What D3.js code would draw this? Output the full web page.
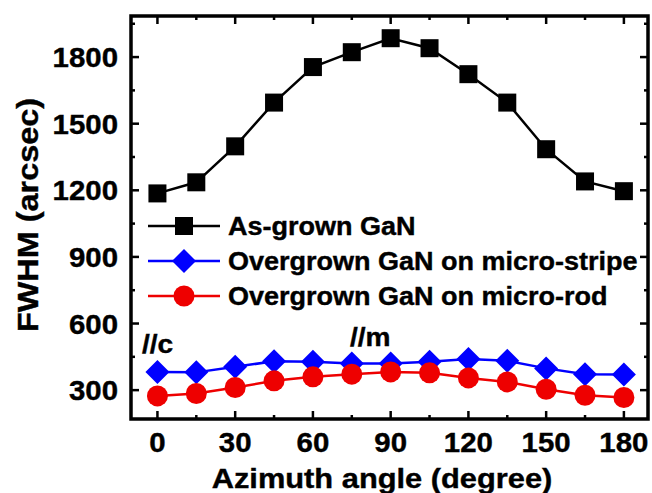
<!DOCTYPE html>
<html>
<head>
<meta charset="utf-8">
<script src="https://cdn.jsdelivr.net/npm/d3@7"></script>
<style>
  body { margin: 0; background: #fff; }
  text { font-family: "Liberation Sans", Arial, sans-serif; font-weight: bold; fill: #000; stroke: #000; stroke-width: 0.4px; }
</style>
</head>
<body>
<div id="chart"></div>
<script>
// values
var angles = [0, 15, 30, 45, 60, 75, 90, 105, 120, 135, 150, 165, 180];
var asGrown = [1186, 1236, 1398, 1595, 1755, 1822, 1885, 1840, 1723, 1595, 1385, 1240, 1196];
var stripe = [382, 380, 405, 430, 428, 420, 420, 428, 440, 432, 398, 372, 370];
var rod = [274, 285, 312, 342, 360, 372, 382, 378, 355, 337, 304, 277, 267];
var xTicks = [0, 30, 60, 90, 120, 150, 180];
var yTicks = [300, 600, 900, 1200, 1500, 1800];
var seriesNames = ["As-grown GaN", "Overgrown GaN on micro-stripe", "Overgrown GaN on micro-rod"];
var seriesColors = ["#000000", "#0000ff", "#ee0000"];

var W = 652, H = 493;
var margin = { top: 16, right: 4, bottom: 74, left: 131 };

var svg = d3.select("#chart").append("svg")
  .attr("width", W)
  .attr("height", H);

var x = d3.scaleLinear().domain([-10.2, 189.3]).range([margin.left, W - margin.right]);
var y = d3.scaleLinear().domain([170, 1985]).range([H - margin.bottom, margin.top]);

// stretch text a little wider, like the original
function widen(sel, k) {
  sel.each(function() {
    var w = this.getComputedTextLength();
    d3.select(this).attr("textLength", w * k).attr("lengthAdjust", "spacingAndGlyphs");
  });
}

var x0 = x.range()[0], x1 = x.range()[1], y0 = y.range()[0], y1 = y.range()[1];

// ticks (inward, all four sides)
var xMinor = d3.range(0, 181, 15);
var yMinor = d3.range(150, 1951, 150);
var tk = svg.append("g").attr("stroke", "#000").attr("stroke-width", 2.5);
xMinor.forEach(function(v) {
  var len = (v % 30 == 0) ? 8 : 4;
  tk.append("line").attr("x1", x(v)).attr("x2", x(v)).attr("y1", y0).attr("y2", y0 - len);
  tk.append("line").attr("x1", x(v)).attr("x2", x(v)).attr("y1", y1).attr("y2", y1 + len);
});
yMinor.forEach(function(v) {
  if (y(v) > y0 || y(v) < y1) return;
  var len = (v % 300 == 0) ? 8 : 4;
  tk.append("line").attr("y1", y(v)).attr("y2", y(v)).attr("x1", x0).attr("x2", x0 + len);
  tk.append("line").attr("y1", y(v)).attr("y2", y(v)).attr("x1", x1).attr("x2", x1 - len);
});

// frame
svg.append("rect")
  .attr("x", x0).attr("y", y1)
  .attr("width", x1 - x0).attr("height", y0 - y1)
  .attr("fill", "none").attr("stroke", "#000").attr("stroke-width", 3.5);

// tick labels
svg.selectAll(".xlab").data(xTicks).enter().append("text")
  .attr("class", "xlab")
  .attr("x", function(d) { return x(d); })
  .attr("y", 452)
  .attr("text-anchor", "middle")
  .style("font-size", "28px")
  .text(function(d) { return d; })
  .call(widen, 1.05);

svg.selectAll(".ylab").data(yTicks).enter().append("text")
  .attr("class", "ylab")
  .attr("x", 118)
  .attr("y", function(d) { return y(d) + 10; })
  .attr("text-anchor", "end")
  .style("font-size", "28px")
  .text(function(d) { return d; })
  .call(widen, 1.05);

// axis titles
svg.append("text")
  .attr("x", 382).attr("y", 488)
  .attr("text-anchor", "middle")
  .style("font-size", "28px")
  .text("Azimuth angle (degree)")
  .call(widen, 1.1);

svg.append("text")
  .attr("transform", "translate(38,215) rotate(-90)")
  .attr("text-anchor", "middle")
  .style("font-size", "30px")
  .text("FWHM (arcsec)")
  .call(widen, 1.08);

// series
var allSeries = [asGrown, stripe, rod];
var line = d3.line()
  .x(function(d, i) { return x(angles[i]); })
  .y(function(d) { return y(d); });

allSeries.forEach(function(vals, s) {
  var g = svg.append("g");
  g.append("path")
    .datum(vals)
    .attr("d", line)
    .attr("fill", "none")
    .attr("stroke", seriesColors[s])
    .attr("stroke-width", 2.5);
  drawMarker(g, s, vals.map(function(v, i) { return [x(angles[i]), y(v)]; }));
});

function drawMarker(g, s, pts) {
  pts.forEach(function(p) {
    if (s == 0) {
      g.append("rect").attr("x", p[0] - 9).attr("y", p[1] - 9)
        .attr("width", 18).attr("height", 18).attr("fill", seriesColors[s]);
    } else if (s == 1) {
      g.append("path")
        .attr("d", "M" + p[0] + "," + (p[1] - 12) + "L" + (p[0] + 12) + "," + p[1] +
                   "L" + p[0] + "," + (p[1] + 12) + "L" + (p[0] - 12) + "," + p[1] + "Z")
        .attr("fill", seriesColors[s]);
    } else {
      g.append("circle").attr("cx", p[0]).attr("cy", p[1]).attr("r", 10.5).attr("fill", seriesColors[s]);
    }
  });
}

// legend
var legRows = [226, 261, 296];
seriesNames.forEach(function(name, s) {
  var g = svg.append("g");
  g.append("line")
    .attr("x1", 148).attr("x2", 220)
    .attr("y1", legRows[s]).attr("y2", legRows[s])
    .attr("stroke", seriesColors[s]).attr("stroke-width", 2.5);
  drawMarker(g, s, [[184, legRows[s]]]);
  g.append("text")
    .attr("x", 228).attr("y", legRows[s] + 9)
    .style("font-size", "25px")
    .text(name)
    .call(widen, 1.08);
});

// annotations
svg.append("text").attr("x", 142).attr("y", 353)
  .style("font-size", "26px").text("//c").call(widen, 1.08);
svg.append("text").attr("x", 350).attr("y", 346)
  .style("font-size", "26px").text("//m").call(widen, 1.08);
</script>
</body>
</html>
